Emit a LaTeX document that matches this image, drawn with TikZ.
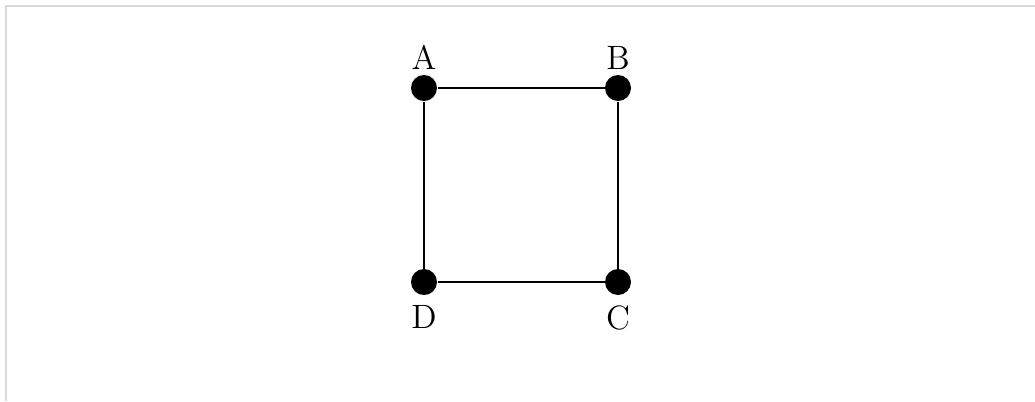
\documentclass[tikz,border=0pt]{standalone}
\usepackage{tikz}
\usetikzlibrary{positioning}
\definecolor{frm}{RGB}{217,217,217}
\tikzset{
  vtx/.style={circle,fill=black,draw=none,inner sep=0pt,minimum size=10.4pt},
  side/.style={line width=0.8pt,black},
  lbl/.style={font=\fontsize{13.5}{16}\selectfont},
  up/.style={label={[lbl,label distance=-1.6pt]above:#1}},
  down/.style={label={[lbl,label distance=0.6pt]below:#1}}
}

\begin{document}
\begin{tikzpicture}[x=0.4pt,y=-0.4pt]
  \useasboundingbox (0,0) rectangle (1035,401);
  \draw[frm,line width=0.9pt] (6,401)--(6,6)--(1035,6);
  \node[vtx,up=A] (A) at (424,88) {};
  \node[vtx,up=B] (B) at (618,88) {};
  \node[vtx,down=C] (C) at (618,282) {};
  \node[vtx,down=D] (D) at (424,282) {};
  \draw[side] (A)--(B);
  \draw[side] (B)--(C);
  \draw[side] (C)--(D);
  \draw[side] (D)--(A);
\end{tikzpicture}
\end{document}
